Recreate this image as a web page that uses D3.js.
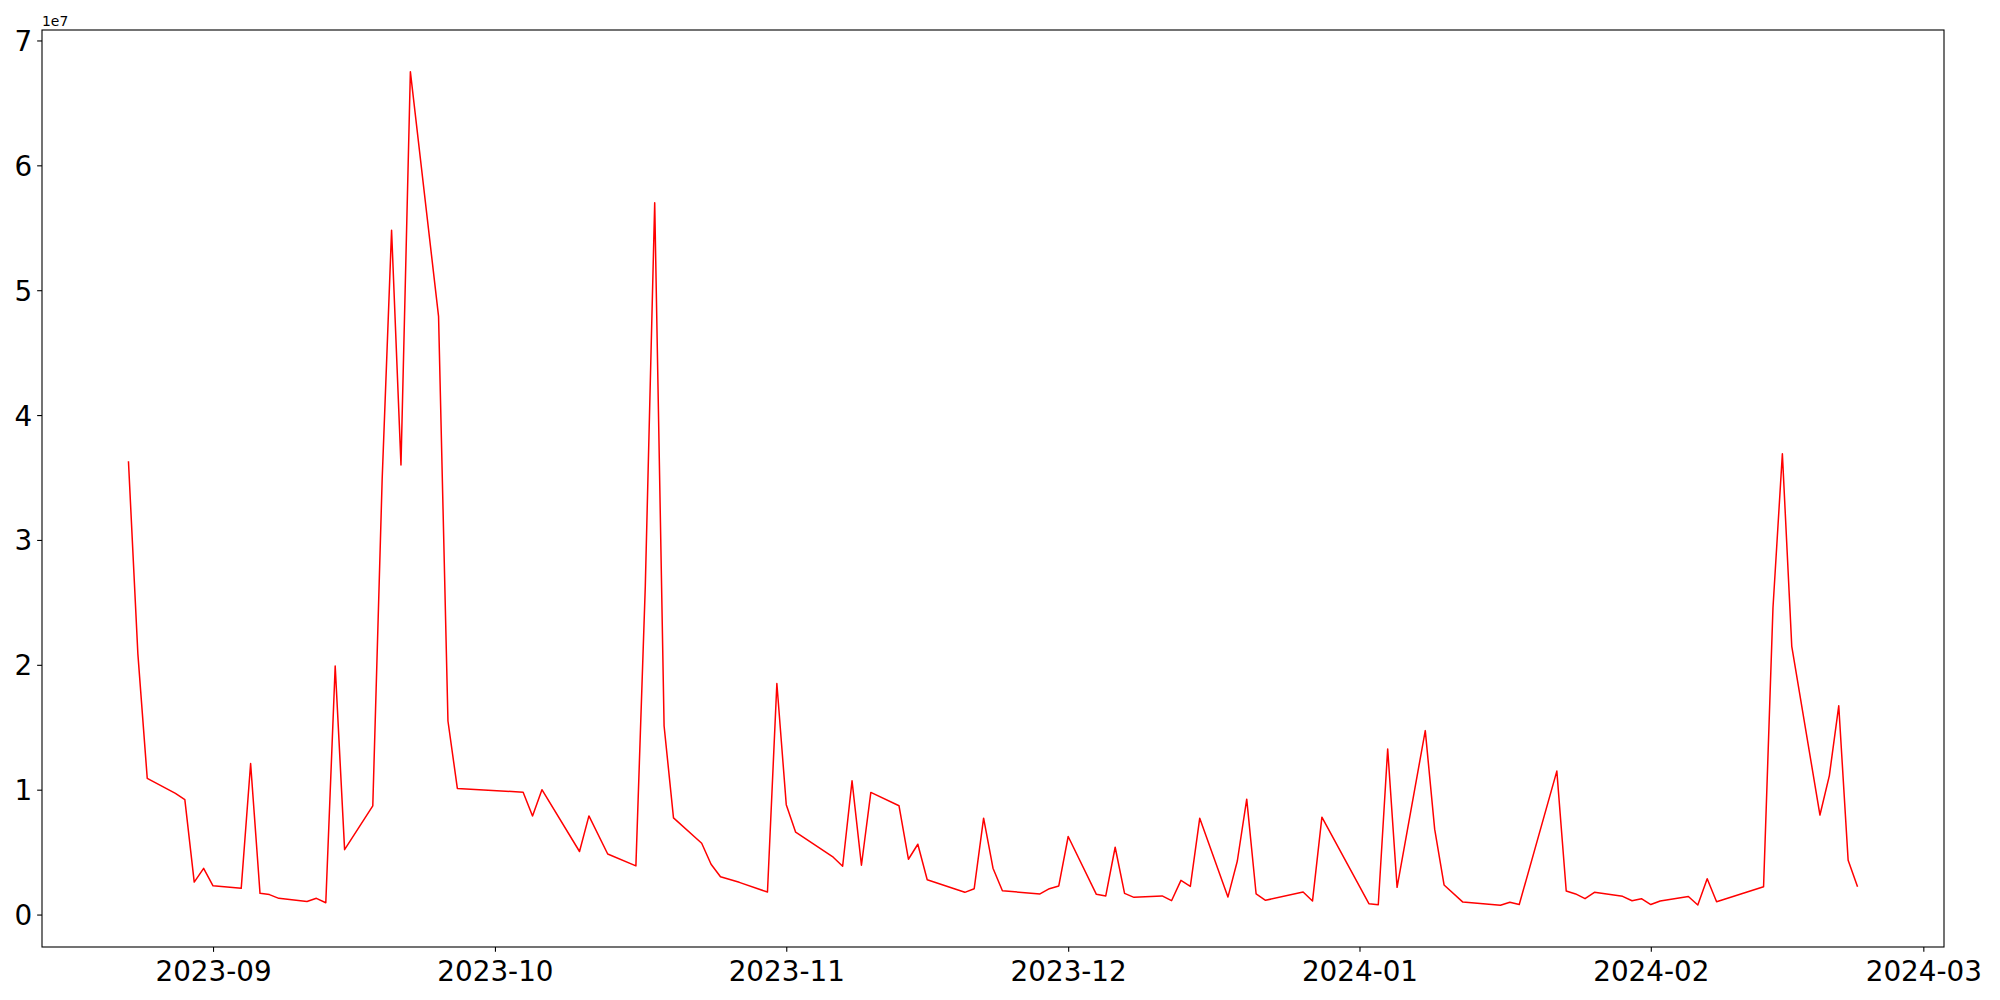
<!DOCTYPE html>
<html>
<head>
<meta charset="utf-8">
<script src="https://cdn.jsdelivr.net/npm/d3@7"></script>
<style>
  body { margin: 0; background: #fff; }
  svg { display: block; font-family: "DejaVu Sans", sans-serif; }
</style>
</head>
<body>
<svg id="chart" width="2000" height="1000"></svg>
<script>
// trading days (gaps = weekends / holidays)
const dates = [
  "2023-08-23", "2023-08-24", "2023-08-25", "2023-08-28", "2023-08-29", "2023-08-30", "2023-08-31",
  "2023-09-01", "2023-09-04", "2023-09-05", "2023-09-06", "2023-09-07", "2023-09-08", "2023-09-11",
  "2023-09-12", "2023-09-13", "2023-09-14", "2023-09-15", "2023-09-18", "2023-09-19", "2023-09-20",
  "2023-09-21", "2023-09-22", "2023-09-25", "2023-09-26", "2023-09-27", "2023-10-04", "2023-10-05",
  "2023-10-06", "2023-10-10", "2023-10-11", "2023-10-13", "2023-10-16", "2023-10-17", "2023-10-18",
  "2023-10-19", "2023-10-20", "2023-10-23", "2023-10-24", "2023-10-25", "2023-10-27", "2023-10-30",
  "2023-10-31", "2023-11-01", "2023-11-02", "2023-11-06", "2023-11-07", "2023-11-08", "2023-11-09",
  "2023-11-10", "2023-11-13", "2023-11-14", "2023-11-15", "2023-11-16", "2023-11-20", "2023-11-21",
  "2023-11-22", "2023-11-23", "2023-11-24", "2023-11-28", "2023-11-29", "2023-11-30", "2023-12-01",
  "2023-12-04", "2023-12-05", "2023-12-06", "2023-12-07", "2023-12-08", "2023-12-11", "2023-12-12",
  "2023-12-13", "2023-12-14", "2023-12-15", "2023-12-18", "2023-12-19", "2023-12-20", "2023-12-21",
  "2023-12-22", "2023-12-26", "2023-12-27", "2023-12-28", "2024-01-02", "2024-01-03", "2024-01-04",
  "2024-01-05", "2024-01-08", "2024-01-09", "2024-01-10", "2024-01-12", "2024-01-16", "2024-01-17",
  "2024-01-18", "2024-01-22", "2024-01-23", "2024-01-24", "2024-01-25", "2024-01-26", "2024-01-29",
  "2024-01-30", "2024-01-31", "2024-02-01", "2024-02-02", "2024-02-05", "2024-02-06", "2024-02-07",
  "2024-02-08", "2024-02-13", "2024-02-14", "2024-02-15", "2024-02-16", "2024-02-19", "2024-02-20",
  "2024-02-21", "2024-02-22", "2024-02-23"
];

// values in units of 1e7
const values = [
  3.63, 2.09, 1.09, 0.97, 0.92, 0.26, 0.37,
  0.23, 0.21, 1.21, 0.17, 0.16, 0.13, 0.105,
  0.13, 0.095, 1.99, 0.52, 0.87, 3.49, 5.48,
  3.60, 6.75, 4.79, 1.55, 1.01, 0.98, 0.79,
  1.00, 0.505, 0.79, 0.485, 0.39, 2.63, 5.70,
  1.51, 0.774, 0.571, 0.403, 0.303, 0.258, 0.18,
  1.85, 0.88, 0.66, 0.459, 0.387, 1.071, 0.395,
  0.978, 0.871, 0.443, 0.563, 0.279, 0.178, 0.207,
  0.772, 0.371, 0.191, 0.165, 0.207, 0.229, 0.625,
  0.162, 0.149, 0.539, 0.17, 0.138, 0.149, 0.111,
  0.274, 0.226, 0.772, 0.14, 0.429, 0.924, 0.165,
  0.114, 0.181, 0.108, 0.78, 0.087, 0.079, 1.326,
  0.218, 1.473, 0.684, 0.237, 0.10, 0.074, 0.098,
  0.08, 1.149, 0.189, 0.165, 0.127, 0.178, 0.146,
  0.111, 0.127, 0.08, 0.108, 0.145, 0.077, 0.287,
  0.103, 0.222, 2.455, 3.69, 2.148, 0.797, 1.113,
  1.672, 0.434, 0.222
];

const scaleExp = 1e7;
const yTickValues = [0, 1, 2, 3, 4, 5, 6, 7];
const xTickLabels = ["2023-09", "2023-10", "2023-11", "2023-12", "2024-01", "2024-02", "2024-03"];

const parse = d3.timeParse("%Y-%m-%d");
const data = dates.map((d, i) => ({ date: parse(d), value: values[i] * scaleExp }));

const svg = d3.select("#chart");
const frame = { left: 42, right: 1944, top: 30, bottom: 947 };

// matplotlib-style 5% margins
const [t0, t1] = d3.extent(data, d => d.date);
const span = t1 - t0;
const x = d3.scaleTime()
  .domain([new Date(+t0 - span * 0.05), new Date(+t1 + span * 0.05)])
  .range([frame.left, frame.right]);

const [v0, v1] = d3.extent(data, d => d.value);
const vr = v1 - v0;
const y = d3.scaleLinear()
  .domain([v0 - vr * 0.05, v1 + vr * 0.05])
  .range([frame.bottom, frame.top]);

const tick = 4.86;
const fontSize = 27.8;

const monthParse = d3.timeParse("%Y-%m");
const xAxis = d3.axisBottom(x)
  .tickValues(xTickLabels.map(monthParse))
  .tickFormat(d3.timeFormat("%Y-%m"))
  .tickSize(tick)
  .tickPadding(tick);

const yAxis = d3.axisLeft(y)
  .tickValues(yTickValues.map(v => v * scaleExp))
  .tickFormat(d => d3.format("d")(d / scaleExp))
  .tickSize(tick)
  .tickPadding(tick);

const gx = svg.append("g")
  .attr("transform", `translate(0,${frame.bottom})`)
  .call(xAxis);
gx.select(".domain").remove();
gx.selectAll("line").attr("stroke", "#000").attr("stroke-width", 1.1);
gx.selectAll("text")
  .attr("y", tick * 2)
  .attr("dy", "0.87em")
  .attr("fill", "#000")
  .attr("font-size", fontSize)
  .attr("font-family", "DejaVu Sans");

const gy = svg.append("g")
  .attr("transform", `translate(${frame.left},0)`)
  .call(yAxis);
gy.select(".domain").remove();
gy.selectAll("line").attr("stroke", "#000").attr("stroke-width", 1.1);
gy.selectAll("text")
  .attr("dy", "0.36em")
  .attr("fill", "#000")
  .attr("font-size", fontSize)
  .attr("font-family", "DejaVu Sans");

// offset text
svg.append("text")
  .attr("x", frame.left)
  .attr("y", 26)
  .attr("font-size", 13.9)
  .attr("fill", "#000")
  .text("1e7");

const line = d3.line()
  .x(d => x(d.date))
  .y(d => y(d.value));

svg.append("path")
  .datum(data)
  .attr("fill", "none")
  .attr("stroke", "#ff0000")
  .attr("stroke-width", 1.5)
  .attr("stroke-linejoin", "round")
  .attr("d", line);

// plot frame
svg.append("rect")
  .attr("x", frame.left)
  .attr("y", frame.top)
  .attr("width", frame.right - frame.left)
  .attr("height", frame.bottom - frame.top)
  .attr("fill", "none")
  .attr("stroke", "#000")
  .attr("stroke-width", 1.1);
</script>
</body>
</html>
